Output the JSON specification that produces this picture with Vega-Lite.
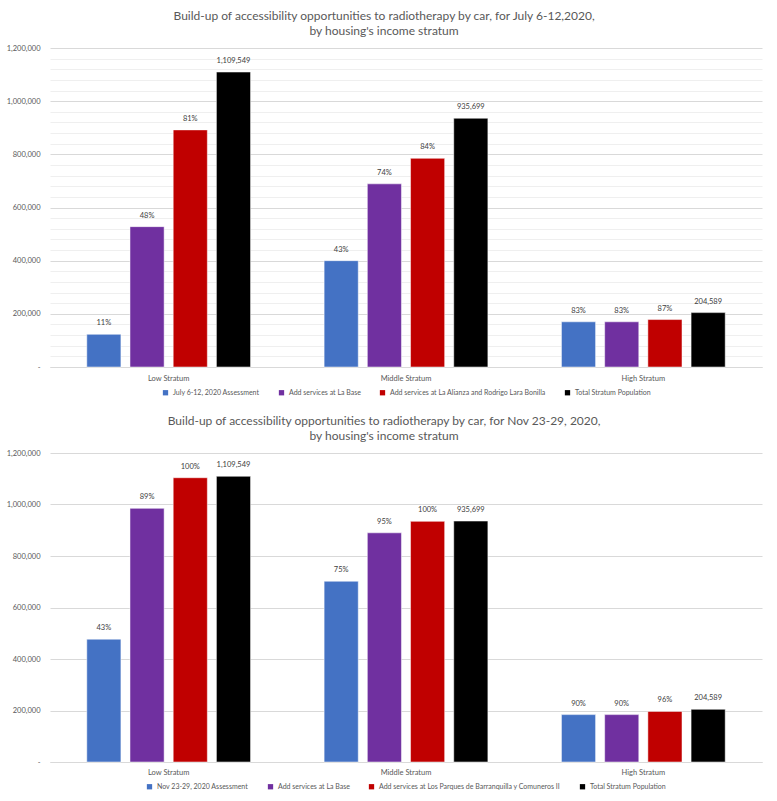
{
  "$schema": "https://vega.github.io/schema/vega-lite/v6.json",
  "background": "#ffffff",
  "padding": {"left": 6, "top": 10, "right": 10, "bottom": 4},
  "datasets": {
    "july": [
      {"stratum": "Low Stratum", "series": "July 6-12, 2020 Assessment", "value": 123000, "label": "11%"},
      {"stratum": "Low Stratum", "series": "Add services at La Base", "value": 528000, "label": "48%"},
      {"stratum": "Low Stratum", "series": "Add services at La Alianza and Rodrigo Lara Bonilla", "value": 892000, "label": "81%"},
      {"stratum": "Low Stratum", "series": "Total Stratum Population", "value": 1109549, "label": "1,109,549"},
      {"stratum": "Middle Stratum", "series": "July 6-12, 2020 Assessment", "value": 400000, "label": "43%"},
      {"stratum": "Middle Stratum", "series": "Add services at La Base", "value": 689000, "label": "74%"},
      {"stratum": "Middle Stratum", "series": "Add services at La Alianza and Rodrigo Lara Bonilla", "value": 785000, "label": "84%"},
      {"stratum": "Middle Stratum", "series": "Total Stratum Population", "value": 935699, "label": "935,699"},
      {"stratum": "High Stratum", "series": "July 6-12, 2020 Assessment", "value": 170000, "label": "83%"},
      {"stratum": "High Stratum", "series": "Add services at La Base", "value": 170000, "label": "83%"},
      {"stratum": "High Stratum", "series": "Add services at La Alianza and Rodrigo Lara Bonilla", "value": 178500, "label": "87%"},
      {"stratum": "High Stratum", "series": "Total Stratum Population", "value": 204589, "label": "204,589"}
    ],
    "nov": [
      {"stratum": "Low Stratum", "series": "Nov 23-29, 2020 Assessment", "value": 477000, "label": "43%"},
      {"stratum": "Low Stratum", "series": "Add services at La Base", "value": 985000, "label": "89%"},
      {"stratum": "Low Stratum", "series": "Add services at Los Parques de Barranquilla y Comuneros II", "value": 1104000, "label": "100%"},
      {"stratum": "Low Stratum", "series": "Total Stratum Population", "value": 1109549, "label": "1,109,549"},
      {"stratum": "Middle Stratum", "series": "Nov 23-29, 2020 Assessment", "value": 702000, "label": "75%"},
      {"stratum": "Middle Stratum", "series": "Add services at La Base", "value": 890000, "label": "95%"},
      {"stratum": "Middle Stratum", "series": "Add services at Los Parques de Barranquilla y Comuneros II", "value": 934500, "label": "100%"},
      {"stratum": "Middle Stratum", "series": "Total Stratum Population", "value": 935699, "label": "935,699"},
      {"stratum": "High Stratum", "series": "Nov 23-29, 2020 Assessment", "value": 184000, "label": "90%"},
      {"stratum": "High Stratum", "series": "Add services at La Base", "value": 184000, "label": "90%"},
      {"stratum": "High Stratum", "series": "Add services at Los Parques de Barranquilla y Comuneros II", "value": 196500, "label": "96%"},
      {"stratum": "High Stratum", "series": "Total Stratum Population", "value": 204589, "label": "204,589"}
    ]
  },
  "config": {
    "font": "Lato",
    "view": {"stroke": null},
    "title": {"font": "Lato", "fontSize": 12, "fontWeight": "normal", "color": "#595959", "anchor": "middle", "frame": "bounds", "lineHeight": 15, "offset": 6},
    "axis": {"labelFont": "Lato", "labelColor": "#595959", "titleColor": "#595959", "ticks": false},
    "legend": {"labelFont": "Lato", "labelColor": "#595959", "labelFontSize": 7, "symbolType": "square", "symbolSize": 28, "symbolStrokeWidth": 0, "columnPadding": 18, "labelLimit": 400, "orient": "bottom", "direction": "horizontal", "title": null, "offset": 7, "padding": 0,
      "layout": {"bottom": {"anchor": "middle"}}}
  },
  "resolve": {"scale": {"color": "independent", "x": "independent", "xOffset": "independent", "y": "independent"}},
  "spacing": 19,
  "vconcat": [
    {
      "width": 712,
      "height": 319,
      "title": {"text": ["Build-up of accessibility opportunities to radiotherapy by car, for July 6-12,2020,", "by housing's  income stratum"]},
      "data": {"name": "july"},
      "encoding": {
        "x": {"field": "stratum", "type": "nominal", "sort": ["Low Stratum", "Middle Stratum", "High Stratum"], "title": null,
          "scale": {"paddingInner": 0.31, "paddingOuter": 0.155},
          "axis": {"labelAngle": 0, "labelFontSize": 7.5, "domainColor": "#d9d9d9", "labelPadding": 7, "grid": false}},
        "xOffset": {"field": "series", "type": "nominal", "sort": ["July 6-12, 2020 Assessment", "Add services at La Base", "Add services at La Alianza and Rodrigo Lara Bonilla", "Total Stratum Population"], "scale": {"paddingInner": 0.21, "paddingOuter": 0}},
        "y": {"field": "value", "type": "quantitative", "title": null,
          "scale": {"domain": [0, 1200000], "nice": false},
          "axis": {"values": [0, 40000, 80000, 120000, 160000, 200000, 240000, 280000, 320000, 360000, 400000, 440000, 480000, 520000, 560000, 600000, 640000, 680000, 720000, 760000, 800000, 840000, 880000, 920000, 960000, 1000000, 1040000, 1080000, 1120000, 1160000, 1200000],
            "labelExpr": "datum.value == 0 ? '-' : (datum.value % 200000 == 0 ? format(datum.value, ',') : '')",
            "gridColor": {"condition": {"test": "datum.value % 200000 == 0", "value": "#d9d9d9"}, "value": "#efefef"},
            "domain": false, "labelFontSize": 7.5, "labelPadding": 10}}
      },
      "layer": [
        {"mark": {"type": "bar", "stroke": "#ffffff", "strokeWidth": 0.5},
          "encoding": {"color": {"field": "series", "type": "nominal", "sort": ["July 6-12, 2020 Assessment", "Add services at La Base", "Add services at La Alianza and Rodrigo Lara Bonilla", "Total Stratum Population"],
            "scale": {"range": ["#4472C4", "#7030A0", "#C00000", "#000000"]}}}},
        {"mark": {"type": "text", "baseline": "bottom", "dy": -7, "fontSize": 7.5, "color": "#404040", "font": "Lato"},
          "encoding": {"text": {"field": "label"}}}
      ]
    },
    {
      "width": 712,
      "height": 309,
      "title": {"text": ["Build-up of accessibility opportunities to radiotherapy by car, for Nov 23-29, 2020,", "by housing's  income stratum"]},
      "data": {"name": "nov"},
      "encoding": {
        "x": {"field": "stratum", "type": "nominal", "sort": ["Low Stratum", "Middle Stratum", "High Stratum"], "title": null,
          "scale": {"paddingInner": 0.31, "paddingOuter": 0.155},
          "axis": {"labelAngle": 0, "labelFontSize": 7.5, "domainColor": "#d9d9d9", "labelPadding": 6, "grid": false}},
        "xOffset": {"field": "series", "type": "nominal", "sort": ["Nov 23-29, 2020 Assessment", "Add services at La Base", "Add services at Los Parques de Barranquilla y Comuneros II", "Total Stratum Population"], "scale": {"paddingInner": 0.21, "paddingOuter": 0}},
        "y": {"field": "value", "type": "quantitative", "title": null,
          "scale": {"domain": [0, 1200000], "nice": false},
          "axis": {"values": [0, 200000, 400000, 600000, 800000, 1000000, 1200000],
            "labelExpr": "datum.value == 0 ? '-' : format(datum.value, ',')",
            "gridColor": "#d9d9d9", "domain": false, "labelFontSize": 7.5, "labelPadding": 10}}
      },
      "layer": [
        {"mark": {"type": "bar", "stroke": "#ffffff", "strokeWidth": 0.5},
          "encoding": {"color": {"field": "series", "type": "nominal", "sort": ["Nov 23-29, 2020 Assessment", "Add services at La Base", "Add services at Los Parques de Barranquilla y Comuneros II", "Total Stratum Population"],
            "scale": {"range": ["#4472C4", "#7030A0", "#C00000", "#000000"]}}}},
        {"mark": {"type": "text", "baseline": "bottom", "dy": -7, "fontSize": 7.5, "color": "#404040", "font": "Lato"},
          "encoding": {"text": {"field": "label"}}}
      ]
    }
  ]
}
